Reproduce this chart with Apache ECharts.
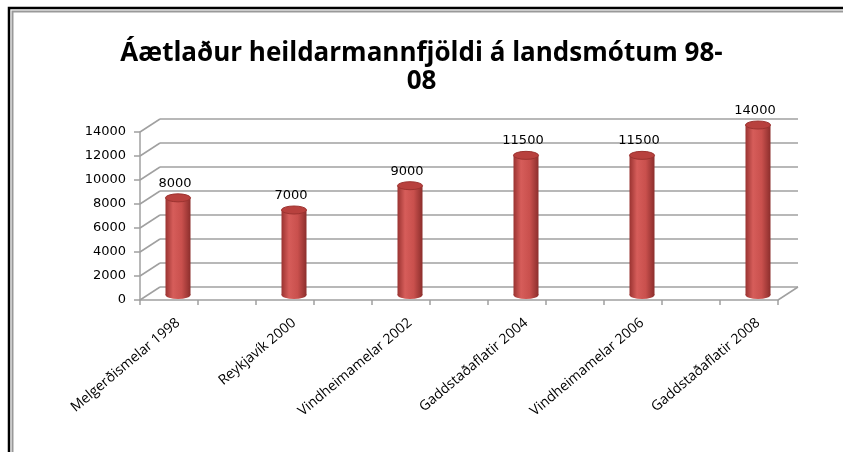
<!DOCTYPE html>
<html lang="is">
<head>
<meta charset="UTF-8">
<title>Landsmót</title>
<script src="https://cdn.jsdelivr.net/npm/echarts@6/dist/echarts.min.js"></script>
<style>
  html, body { margin: 0; padding: 0; background: #fff; }
  #chart { width: 843px; height: 452px; }
</style>
</head>
<body>
<div id="chart"></div>
<script type="text/javascript">
var titleText = 'Áætlaður heildarmannfjöldi á landsmótum 98-\n08';
var categories = ['Melgerðismelar 1998', 'Reykjavík 2000', 'Vindheimamelar 2002',
                  'Gaddstaðaflatir 2004', 'Vindheimamelar 2006', 'Gaddstaðaflatir 2008'];
var visitors = [8000, 7000, 9000, 11500, 11500, 14000];
var yTicks = [0, 2000, 4000, 6000, 8000, 10000, 12000, 14000];

var yMax = 14000, yStep = 2000;
var depthX = 20, depthY = -13;   // shift from front frame to back wall
var gridColor = '#a0a0a0';
var numFont = 'DejaVu Sans';

var chart = echarts.init(document.getElementById('chart'));

// cylinder for each bar
function renderCylinder(params, api) {
    var v = api.value(1);
    var top = api.coord([api.value(0), v]);
    var base = api.coord([api.value(0), 0]);
    var w = 25, capH = 8;
    var side = new echarts.graphic.LinearGradient(0, 0, 1, 0, [
        {offset: 0, color: '#9a3331'},
        {offset: 0.3, color: '#d65d5a'},
        {offset: 0.65, color: '#c9504d'},
        {offset: 1, color: '#8c2e2c'}
    ]);
    var ell = 'M0,50 A50,50 0 1,0 100,50 A50,50 0 1,0 0,50 Z';
    return {
        type: 'group',
        children: [
            {type: 'path', shape: {pathData: ell, x: top[0] - w / 2, y: base[1] - capH / 2, width: w, height: capH, layout: 'cover'},
             style: {fill: side}},
            {type: 'rect', shape: {x: top[0] - w / 2, y: top[1], width: w, height: base[1] - top[1]},
             style: {fill: side}},
            {type: 'path', shape: {pathData: ell, x: top[0] - w / 2, y: top[1] - capH / 2, width: w, height: capH, layout: 'cover'},
             style: {fill: '#b8413e', stroke: '#9c3330', lineWidth: 1}},
            {type: 'text', style: {text: String(v), x: top[0] - 3, y: top[1] - 8,
             textAlign: 'center', textVerticalAlign: 'bottom', font: '13px "' + numFont + '"', fill: '#000'}}
        ]
    };
}

// diagonal edges joining the front frame to the back wall
function renderDepth(params, api) {
    var p = api.coord([api.value(0), api.value(1)]);
    return {
        type: 'line',
        shape: {x1: p[0], y1: p[1], x2: p[0] + depthX, y2: p[1] + depthY},
        style: {stroke: gridColor, lineWidth: 1.5}
    };
}

var depthData = yTicks.map(function (t) { return [0, t]; });
depthData.push([11, 0]);

var option = {
    animation: false,
    backgroundColor: '#fff',
    title: {
        text: titleText,
        left: 'center',
        top: 35,
        textStyle: {fontFamily: 'Open Sans', fontWeight: 'bold', fontSize: 26, lineHeight: 28, color: '#000'}
    },
    graphic: [
        {type: 'rect', shape: {x: 9, y: 8, width: 900, height: 500}, style: {fill: 'none', stroke: '#000', lineWidth: 2.5}},
        {type: 'rect', shape: {x: 12.5, y: 11.5, width: 900, height: 500}, style: {fill: 'none', stroke: '#999', lineWidth: 2}}
    ],
    grid: [
        {left: 120, right: 27, top: 125, bottom: 157},   // bars
        {left: 160, right: 45, top: 119, bottom: 165},   // back wall
        {left: 140, right: 65, top: 132, bottom: 152}    // front frame
    ],
    xAxis: [
        {
            gridIndex: 0, type: 'category', data: categories, boundaryGap: true,
            axisLine: {show: false}, axisTick: {show: false},
            axisLabel: {rotate: 40, margin: 26, interval: 0, fontFamily: 'Open Sans', fontSize: 14, color: '#000'}
        },
        {gridIndex: 1, type: 'value', min: 0, max: 1, show: false},
        {
            gridIndex: 2, type: 'value', min: 0, max: 11, interval: 1,
            axisLine: {show: true, lineStyle: {color: gridColor, width: 1.5}},
            axisTick: {show: true, length: 5, lineStyle: {color: gridColor, width: 1.5}},
            axisLabel: {show: false}, splitLine: {show: false}
        }
    ],
    yAxis: [
        {gridIndex: 0, type: 'value', min: 0, max: yMax, show: false},
        {
            gridIndex: 1, type: 'value', min: 0, max: yMax, interval: yStep,
            axisLine: {show: false}, axisTick: {show: false}, axisLabel: {show: false},
            splitLine: {show: true, lineStyle: {color: gridColor, width: 1.5}}
        },
        {
            gridIndex: 2, type: 'value', min: 0, max: yMax, interval: yStep,
            axisLine: {show: true, lineStyle: {color: gridColor, width: 1.5}},
            axisTick: {show: true, length: 6, lineStyle: {color: gridColor, width: 1.5}},
            axisLabel: {margin: 14, fontFamily: numFont, fontSize: 13, color: '#000',
                        formatter: function (v) { return String(v); }},
            splitLine: {show: false}
        }
    ],
    series: [
        {
            type: 'custom', name: 'depth', xAxisIndex: 2, yAxisIndex: 2,
            renderItem: renderDepth, data: depthData, silent: true
        },
        {
            type: 'custom', name: 'Heildarmannfjöldi', xAxisIndex: 0, yAxisIndex: 0,
            renderItem: renderCylinder,
            data: visitors.map(function (v, i) { return [i, v]; })
        }
    ]
};
chart.setOption(option);
</script>
</body>
</html>
